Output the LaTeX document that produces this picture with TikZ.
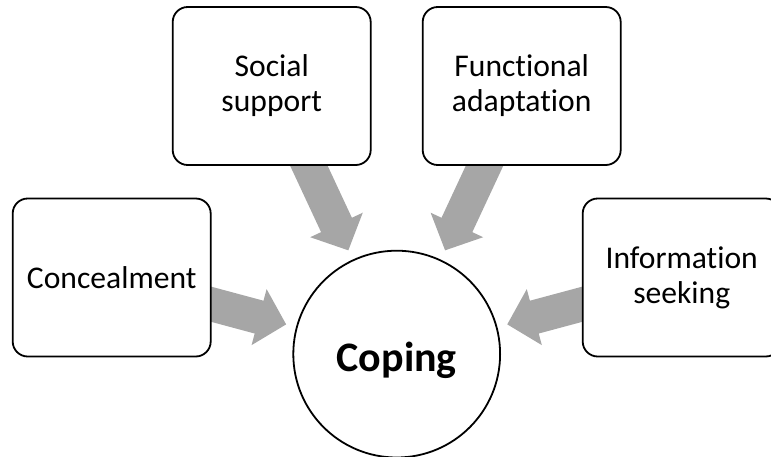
\documentclass[tikz,border=0pt]{standalone}
\usepackage{fontspec}
\setmainfont{Carlito}[RawFeature={-liga;-clig;-calt;-dlig}]
\usetikzlibrary{calc,backgrounds}
\definecolor{arrowgray}{RGB}{166,166,166}
\tikzset{
  boxnode/.style={draw=black, line width=1.8pt, fill=white, rounded corners=15pt,
    minimum width=198pt, minimum height=158pt, align=center, inner sep=0pt,
    font=\fontsize{31.6}{35}\selectfont},
  ringnode/.style={draw=black, line width=1.8pt, fill=white, circle,
    minimum size=206.8pt, inner sep=0pt},
  bigarrow/.style={fill=arrowgray, draw=none}
}
\newcommand{\drawbigarrow}[2]{%
  \coordinate (T#1) at ($(#2)!114.5pt!(#1)$);
  \coordinate (H#1) at ($(T#1)!28pt!(#1)$);
  \fill[bigarrow] ($(#1)!17pt!90:(T#1)$) -- ($(H#1)!17pt!90:(T#1)$) --
    ($(H#1)!29pt!90:(T#1)$) -- (T#1) -- ($(H#1)!29pt!-90:(T#1)$) --
    ($(H#1)!17pt!-90:(T#1)$) -- ($(#1)!17pt!-90:(T#1)$) -- cycle;
}
\begin{document}
\begin{tikzpicture}[x=1pt,y=-1pt]
  \useasboundingbox (0,0) rectangle (771,456);
  \clip (0,0) rectangle (771,456);
  \node[boxnode] (social) at (271.7,86) {Social\\support};
  \node[boxnode] (functional) at (521.7,86) {Functional\\adaptation};
  \node[boxnode] (conceal) at (111.7,277.5) {Concealment};
  \node[boxnode] (info) at (681.7,277.5) {Information\\seeking};
  \node[ringnode] (coping) at (396.7,354.1) {};
  \node[font=\fontsize{42}{44}\selectfont\bfseries] (copingtext) at ([yshift=-6pt]coping.center) {Coping};
  \begin{scope}[on background layer]
    \drawbigarrow{social}{coping}
    \drawbigarrow{functional}{coping}
    \drawbigarrow{conceal}{coping}
    \drawbigarrow{info}{coping}
  \end{scope}
\end{tikzpicture}
\end{document}
